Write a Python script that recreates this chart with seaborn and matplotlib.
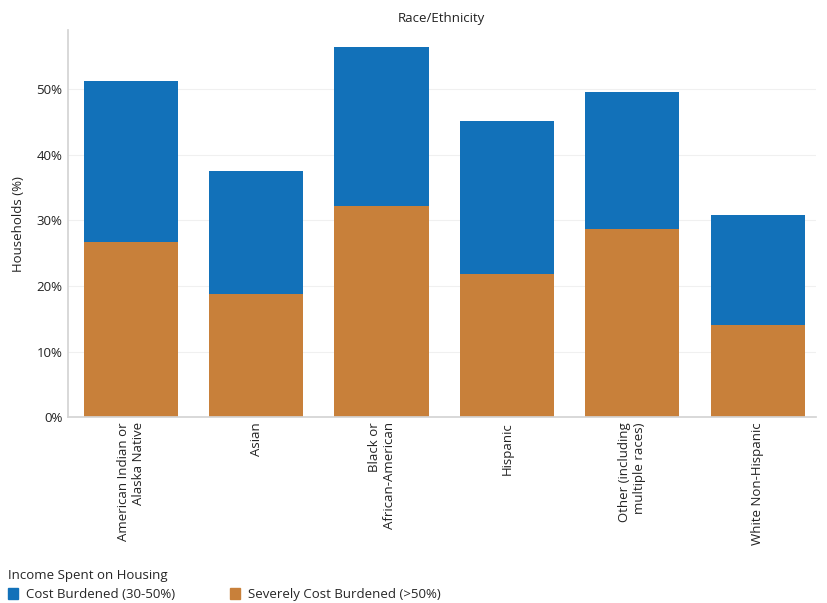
import matplotlib
matplotlib.use("Agg")
import matplotlib.pyplot as plt
import matplotlib.patches as mpatches
from matplotlib.ticker import PercentFormatter
import seaborn as sns

groups = ["American Indian or\nAlaska Native", "Asian", "Black or\nAfrican-American",
          "Hispanic", "Other (including\nmultiple races)", "White Non-Hispanic"]
total_burdened = [51.2, 37.5, 56.4, 45.1, 49.5, 30.8]
severe_burdened = [26.7, 18.8, 32.2, 21.8, 28.7, 14.0]

blue = "#1271b9"
orange = "#c8803a"

sns.set_theme(style="white")
plt.rcParams["font.family"] = ["Open Sans", "DejaVu Sans"]

fig = plt.figure(figsize=(8.28, 6.03), dpi=100)
ax = fig.add_axes([0.082, 0.308, 0.903, 0.642])

sns.barplot(x=groups, y=total_burdened, color=blue, width=0.75, saturation=1,
            linewidth=0, ax=ax)
sns.barplot(x=groups, y=severe_burdened, color=orange, width=0.75, saturation=1,
            linewidth=0, ax=ax)

ax.set_ylim(0, 59)
ax.set_xlim(-0.5, 5.46)
ax.set_yticks([0, 10, 20, 30, 40, 50])
ax.yaxis.set_major_formatter(PercentFormatter(decimals=0))
ax.grid(axis="y", color="#f0f0f0", linewidth=0.8)
ax.set_axisbelow(True)
for s in ["top", "right"]:
    ax.spines[s].set_visible(False)
for s in ["left", "bottom"]:
    ax.spines[s].set_color("#d4d4d4")
ax.tick_params(axis="both", length=0, labelsize=9.5, colors="#222222")
ax.tick_params(axis="y", pad=4)
plt.setp(ax.get_xticklabels(), rotation=90, ha="center", va="top", multialignment="right")
ax.set_ylabel("Households (%)", fontsize=9.5, color="#222222", labelpad=8)
ax.set_title("Race/Ethnicity", fontsize=9.5, color="#222222", pad=6)

handles = [mpatches.Patch(color=blue, label="Cost Burdened (30-50%)"),
           mpatches.Patch(color=orange, label="Severely Cost Burdened (>50%)")]
fig.legend(handles=handles, loc="lower left", bbox_to_anchor=(0.0, -0.01), ncol=2,
           frameon=False, title="Income Spent on Housing", alignment="left",
           fontsize=9.5, title_fontsize=9.5, handlelength=0.8, handleheight=0.8,
           handletextpad=0.6, columnspacing=4.1, borderaxespad=0.2)

fig.savefig("out.png", dpi=100)
